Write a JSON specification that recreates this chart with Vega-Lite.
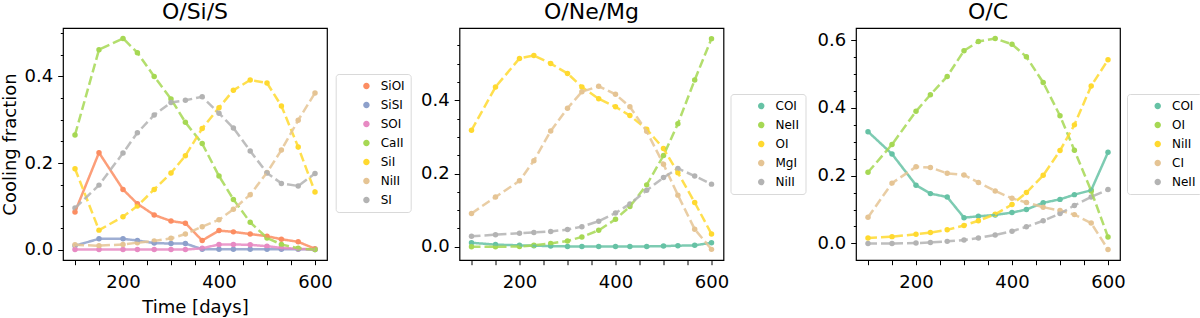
{
  "$schema": "https://vega.github.io/schema/vega-lite/v6.json",
  "padding": {"left": 0, "top": 0, "right": 0, "bottom": 0},
  "background": "white",
  "config": {
    "font": "DejaVu Sans",
    "view": {"stroke": "black", "strokeWidth": 1.2},
    "title": {"fontSize": 22, "fontWeight": "normal", "anchor": "middle", "offset": 4, "color": "black"},
    "axis": {"grid": false, "domain": false, "labelFontSize": 18, "titleFontSize": 18, "titleFontWeight": "normal", "labelColor": "black", "titleColor": "black", "tickColor": "black", "tickWidth": 1}
  },
  "datasets": {
    "osis": [
      {"t": 100, "SiOI": 0.087, "SiSI": 0.009, "SOI": 0.0, "CaII": 0.265, "SiI": 0.187, "NiII": 0.011, "SI": 0.096},
      {"t": 150, "SiOI": 0.224, "SiSI": 0.025, "SOI": 0.0, "CaII": 0.462, "SiI": 0.045, "NiII": 0.009, "SI": 0.149},
      {"t": 200, "SiOI": 0.139, "SiSI": 0.025, "SOI": 0.0, "CaII": 0.488, "SiI": 0.076, "NiII": 0.012, "SI": 0.223},
      {"t": 230, "SiOI": 0.106, "SiSI": 0.021, "SOI": 0.0, "CaII": 0.455, "SiI": 0.101, "NiII": 0.016, "SI": 0.270},
      {"t": 265, "SiOI": 0.080, "SiSI": 0.015, "SOI": 0.0, "CaII": 0.400, "SiI": 0.139, "NiII": 0.020, "SI": 0.311},
      {"t": 300, "SiOI": 0.066, "SiSI": 0.014, "SOI": 0.0, "CaII": 0.348, "SiI": 0.177, "NiII": 0.026, "SI": 0.340},
      {"t": 330, "SiOI": 0.061, "SiSI": 0.014, "SOI": 0.0, "CaII": 0.294, "SiI": 0.217, "NiII": 0.036, "SI": 0.345},
      {"t": 365, "SiOI": 0.021, "SiSI": 0.001, "SOI": 0.003, "CaII": 0.245, "SiI": 0.280, "NiII": 0.053, "SI": 0.353},
      {"t": 400, "SiOI": 0.044, "SiSI": 0.001, "SOI": 0.012, "CaII": 0.170, "SiI": 0.328, "NiII": 0.069, "SI": 0.315},
      {"t": 430, "SiOI": 0.041, "SiSI": 0.001, "SOI": 0.012, "CaII": 0.116, "SiI": 0.368, "NiII": 0.093, "SI": 0.281},
      {"t": 465, "SiOI": 0.036, "SiSI": 0.001, "SOI": 0.011, "CaII": 0.063, "SiI": 0.392, "NiII": 0.127, "SI": 0.228},
      {"t": 500, "SiOI": 0.031, "SiSI": 0.001, "SOI": 0.008, "CaII": 0.027, "SiI": 0.385, "NiII": 0.178, "SI": 0.177},
      {"t": 530, "SiOI": 0.024, "SiSI": 0.001, "SOI": 0.004, "CaII": 0.012, "SiI": 0.332, "NiII": 0.230, "SI": 0.153},
      {"t": 565, "SiOI": 0.018, "SiSI": 0.001, "SOI": 0.002, "CaII": 0.003, "SiI": 0.237, "NiII": 0.299, "SI": 0.147},
      {"t": 600, "SiOI": 0.002, "SiSI": 0.0, "SOI": 0.0, "CaII": 0.0, "SiI": 0.133, "NiII": 0.362, "SI": 0.176}
    ],
    "onemg": [
      {"t": 100, "COI": 0.011, "NeII": 0.000, "OI": 0.318, "MgI": 0.091, "NiII": 0.029},
      {"t": 150, "COI": 0.006, "NeII": 0.000, "OI": 0.436, "MgI": 0.136, "NiII": 0.033},
      {"t": 200, "COI": 0.004, "NeII": 0.001, "OI": 0.514, "MgI": 0.180, "NiII": 0.037},
      {"t": 230, "COI": 0.003, "NeII": 0.004, "OI": 0.522, "MgI": 0.235, "NiII": 0.039},
      {"t": 265, "COI": 0.002, "NeII": 0.009, "OI": 0.500, "MgI": 0.316, "NiII": 0.042},
      {"t": 300, "COI": 0.001, "NeII": 0.016, "OI": 0.473, "MgI": 0.378, "NiII": 0.047},
      {"t": 330, "COI": 0.001, "NeII": 0.027, "OI": 0.436, "MgI": 0.423, "NiII": 0.055},
      {"t": 365, "COI": 0.001, "NeII": 0.045, "OI": 0.404, "MgI": 0.438, "NiII": 0.070},
      {"t": 400, "COI": 0.001, "NeII": 0.075, "OI": 0.382, "MgI": 0.416, "NiII": 0.092},
      {"t": 430, "COI": 0.001, "NeII": 0.110, "OI": 0.358, "MgI": 0.382, "NiII": 0.117},
      {"t": 465, "COI": 0.001, "NeII": 0.169, "OI": 0.321, "MgI": 0.315, "NiII": 0.154},
      {"t": 500, "COI": 0.002, "NeII": 0.249, "OI": 0.268, "MgI": 0.225, "NiII": 0.189},
      {"t": 530, "COI": 0.003, "NeII": 0.336, "OI": 0.202, "MgI": 0.141, "NiII": 0.214},
      {"t": 565, "COI": 0.004, "NeII": 0.455, "OI": 0.121, "MgI": 0.048, "NiII": 0.193},
      {"t": 600, "COI": 0.011, "NeII": 0.568, "OI": 0.035, "MgI": -0.007, "NiII": 0.171}
    ],
    "oc": [
      {"t": 100, "COI": 0.330, "OI": 0.210, "NiII": 0.016, "CI": 0.077, "NeII": 0.000},
      {"t": 150, "COI": 0.264, "OI": 0.292, "NiII": 0.020, "CI": 0.178, "NeII": 0.000},
      {"t": 200, "COI": 0.172, "OI": 0.390, "NiII": 0.027, "CI": 0.226, "NeII": 0.001},
      {"t": 230, "COI": 0.147, "OI": 0.439, "NiII": 0.032, "CI": 0.224, "NeII": 0.003},
      {"t": 265, "COI": 0.137, "OI": 0.493, "NiII": 0.040, "CI": 0.207, "NeII": 0.006},
      {"t": 300, "COI": 0.076, "OI": 0.569, "NiII": 0.053, "CI": 0.202, "NeII": 0.010},
      {"t": 330, "COI": 0.080, "OI": 0.596, "NiII": 0.067, "CI": 0.180, "NeII": 0.016},
      {"t": 365, "COI": 0.084, "OI": 0.605, "NiII": 0.086, "CI": 0.155, "NeII": 0.025},
      {"t": 400, "COI": 0.091, "OI": 0.588, "NiII": 0.115, "CI": 0.133, "NeII": 0.036},
      {"t": 430, "COI": 0.100, "OI": 0.551, "NiII": 0.150, "CI": 0.121, "NeII": 0.049},
      {"t": 465, "COI": 0.120, "OI": 0.475, "NiII": 0.201, "CI": 0.107, "NeII": 0.067},
      {"t": 500, "COI": 0.130, "OI": 0.377, "NiII": 0.274, "CI": 0.097, "NeII": 0.088},
      {"t": 530, "COI": 0.144, "OI": 0.275, "NiII": 0.350, "CI": 0.085, "NeII": 0.112},
      {"t": 565, "COI": 0.157, "OI": 0.155, "NiII": 0.465, "CI": 0.060, "NeII": 0.137},
      {"t": 600, "COI": 0.269, "OI": 0.019, "NiII": 0.542, "CI": -0.018, "NeII": 0.159}
    ]
  },
  "hconcat": [
    {
      "width": 264, "height": 232,
      "title": "O/Si/S",
      "data": {"name": "osis"},
      "transform": [{"fold": ["SiOI", "SiSI", "SOI", "CaII", "SiI", "NiII", "SI"], "as": ["ion", "f"]}],
      "encoding": {
        "x": {"field": "t", "type": "quantitative", "title": "Time [days]",
          "scale": {"domain": [75, 625], "nice": false, "zero": false},
          "axis": {"values": [100, 150, 200, 250, 300, 350, 400, 450, 500, 550, 600], "labelExpr": "datum.value % 200 === 0 ? datum.label : ''", "tickSize": 4.7, "labelPadding": 9, "titlePadding": 7}},
        "y": {"field": "f", "type": "quantitative", "title": "Cooling fraction",
          "scale": {"domain": [-0.024, 0.512], "nice": false, "zero": false},
          "axis": {"values": [0, 0.05, 0.1, 0.15, 0.2, 0.25, 0.3, 0.35, 0.4, 0.45, 0.5], "labelExpr": "round(datum.value*100) % 20 === 0 ? format(datum.value, '.1f') : ''", "tickSize": {"condition": {"test": "round(datum.value*100) % 20 === 0", "value": 5.3}, "value": 2.7}, "labelPadding": 5, "titlePadding": 5}},
        "color": {"field": "ion", "type": "nominal", "scale": {"domain": ["SiOI", "SiSI", "SOI", "CaII", "SiI", "NiII", "SI"], "range": ["#fc8d62", "#8da0cb", "#e78ac3", "#a6d854", "#ffd92f", "#e5c494", "#b3b3b3"]},
          "legend": {"title": null, "orient": "none", "legendX": 272.7, "legendY": 46, "symbolType": "M2,0A1,1,0,1,1,4,0A1,1,0,1,1,2,0Z", "symbolSize": 42, "symbolOffset": 9, "symbolStrokeWidth": 0, "labelFontSize": 12, "labelOffset": 18, "rowPadding": 7, "padding": 6, "strokeColor": "#d9d9d9", "fillColor": "white", "cornerRadius": 3, "labelColor": "black"}}
      },
      "layer": [
        {"mark": {"type": "point", "filled": true, "size": 30, "opacity": 1}},
        {"mark": {"type": "line", "strokeWidth": 2.5, "opacity": 0.85},
          "encoding": {
            "strokeDash": {"field": "ion", "type": "nominal", "legend": null, "scale": {"domain": ["SiOI", "SiSI", "SOI", "CaII", "SiI", "NiII", "SI"], "range": [[1, 0], [1, 0], [1, 0], [9, 4], [9, 4], [9, 4], [9, 4]]}}
          }}
      ]
    },
    {
      "width": 264, "height": 232,
      "title": "O/Ne/Mg",
      "data": {"name": "onemg"},
      "transform": [{"fold": ["COI", "NeII", "OI", "MgI", "NiII"], "as": ["ion", "f"]}],
      "encoding": {
        "x": {"field": "t", "type": "quantitative", "title": null,
          "scale": {"domain": [75, 625], "nice": false, "zero": false},
          "axis": {"values": [100, 150, 200, 250, 300, 350, 400, 450, 500, 550, 600], "labelExpr": "datum.value % 200 === 0 ? datum.label : ''", "tickSize": 4.7, "labelPadding": 9}},
        "y": {"field": "f", "type": "quantitative", "title": null,
          "scale": {"domain": [-0.036, 0.597], "nice": false, "zero": false},
          "axis": {"values": [0, 0.05, 0.1, 0.15, 0.2, 0.25, 0.3, 0.35, 0.4, 0.45, 0.5, 0.55], "labelExpr": "round(datum.value*100) % 20 === 0 ? format(datum.value, '.1f') : ''", "tickSize": {"condition": {"test": "round(datum.value*100) % 20 === 0", "value": 5.3}, "value": 2.7}, "labelPadding": 5}},
        "color": {"field": "ion", "type": "nominal", "scale": {"domain": ["COI", "NeII", "OI", "MgI", "NiII"], "range": ["#66c2a5", "#a6d854", "#ffd92f", "#e5c494", "#b3b3b3"]},
          "legend": {"title": null, "orient": "none", "legendX": 271, "legendY": 66, "symbolType": "M2,0A1,1,0,1,1,4,0A1,1,0,1,1,2,0Z", "symbolSize": 42, "symbolOffset": 9, "symbolStrokeWidth": 0, "labelFontSize": 12, "labelOffset": 18, "rowPadding": 7, "padding": 6, "strokeColor": "#d9d9d9", "fillColor": "white", "cornerRadius": 3, "labelColor": "black"}}
      },
      "layer": [
        {"mark": {"type": "point", "filled": true, "size": 30, "opacity": 1}},
        {"mark": {"type": "line", "strokeWidth": 2.5, "opacity": 0.85},
          "encoding": {
            "strokeDash": {"field": "ion", "type": "nominal", "legend": null, "scale": {"domain": ["COI", "NeII", "OI", "MgI", "NiII"], "range": [[1, 0], [9, 4], [9, 4], [9, 4], [9, 4]]}}
          }}
      ]
    },
    {
      "width": 264, "height": 232,
      "title": "O/C",
      "data": {"name": "oc"},
      "transform": [{"fold": ["COI", "OI", "NiII", "CI", "NeII"], "as": ["ion", "f"]}],
      "encoding": {
        "x": {"field": "t", "type": "quantitative", "title": null,
          "scale": {"domain": [75, 625], "nice": false, "zero": false},
          "axis": {"values": [100, 150, 200, 250, 300, 350, 400, 450, 500, 550, 600], "labelExpr": "datum.value % 200 === 0 ? datum.label : ''", "tickSize": 4.7, "labelPadding": 9}},
        "y": {"field": "f", "type": "quantitative", "title": null,
          "scale": {"domain": [-0.049, 0.636], "nice": false, "zero": false},
          "axis": {"values": [0, 0.05, 0.1, 0.15, 0.2, 0.25, 0.3, 0.35, 0.4, 0.45, 0.5, 0.55, 0.6], "labelExpr": "round(datum.value*100) % 20 === 0 ? format(datum.value, '.1f') : ''", "tickSize": {"condition": {"test": "round(datum.value*100) % 20 === 0", "value": 5.3}, "value": 2.7}, "labelPadding": 5}},
        "color": {"field": "ion", "type": "nominal", "scale": {"domain": ["COI", "OI", "NiII", "CI", "NeII"], "range": ["#66c2a5", "#a6d854", "#ffd92f", "#e5c494", "#b3b3b3"]},
          "legend": {"title": null, "orient": "none", "legendX": 271, "legendY": 66, "symbolType": "M2,0A1,1,0,1,1,4,0A1,1,0,1,1,2,0Z", "symbolSize": 42, "symbolOffset": 9, "symbolStrokeWidth": 0, "labelFontSize": 12, "labelOffset": 18, "rowPadding": 7, "padding": 6, "strokeColor": "#d9d9d9", "fillColor": "white", "cornerRadius": 3, "labelColor": "black"}}
      },
      "layer": [
        {"mark": {"type": "point", "filled": true, "size": 30, "opacity": 1}},
        {"mark": {"type": "line", "strokeWidth": 2.5, "opacity": 0.85},
          "encoding": {
            "strokeDash": {"field": "ion", "type": "nominal", "legend": null, "scale": {"domain": ["COI", "OI", "NiII", "CI", "NeII"], "range": [[1, 0], [9, 4], [9, 4], [9, 4], [9, 4]]}}
          }}
      ]
    }
  ],
  "bounds": "flush",
  "spacing": 132.5,
  "resolve": {"scale": {"color": "independent", "strokeDash": "independent"}, "legend": {"color": "independent"}}
}
